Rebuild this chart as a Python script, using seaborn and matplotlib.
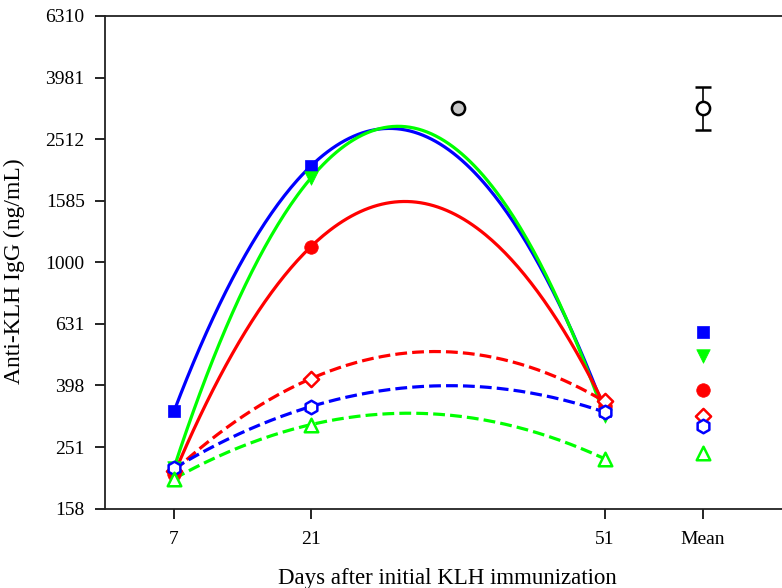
import numpy as np
import pandas as pd
import matplotlib
matplotlib.use("Agg")
import matplotlib.pyplot as plt
import seaborn as sns

sns.set_theme(style="white")
plt.rcParams['font.family'] = ['Liberation Serif', 'DejaVu Serif']

# ---- data ----
days = [7, 21, 51]
mean_pos = 61
blue_solid = [328, 2056, 330]
green_solid = [215, 1880, 316]
red_solid = [205, 1125, 342]
red_dashed = [210, 419, 353]
blue_dashed = [214, 340, 326]
green_dashed = [198, 297, 230]
means = {"blue_solid": 594, "green_solid": 497, "red_solid": 385,
         "red_dashed": 316, "blue_dashed": 293, "green_dashed": 240}
black_x = [36]
black_y = [3167]
black_mean = 3167
black_err_lo = 2692
black_err_hi = 3722

ytick_vals = [158, 251, 398, 631, 1000, 1585, 2512, 3981, 6310]
ytick_labels = ["158", "251", "398", "631", "1000", "1585", "2512", "3981", "6310"]
xtick_vals = [7, 21, 51, 61]
xtick_labels = ["7", "21", "51", "Mean"]

series = [
    ("blue_solid", blue_solid, "#0000ff", "s", True, "-"),
    ("green_solid", green_solid, "#00ff00", "v", True, "-"),
    ("red_solid", red_solid, "#ff0000", "o", True, "-"),
    ("red_dashed", red_dashed, "#ff0000", "D", False, "--"),
    ("blue_dashed", blue_dashed, "#0000ff", "h", False, "--"),
    ("green_dashed", green_dashed, "#00ff00", "^", False, "--"),
]

fig = plt.figure(figsize=(7.82, 5.88), dpi=100)
ax = fig.add_axes([0.1349, 0.1344, 0.8761, 0.8384])

xs = np.linspace(7, 51, 200)
for name, vals, col, mk, filled, ls in series:
    coef = np.polyfit(days, np.log10(vals), 2)
    fit = pd.DataFrame({"x": xs, "y": 10 ** np.polyval(coef, xs)})
    sns.lineplot(data=fit, x="x", y="y", ax=ax, color=col, lw=2.3,
                 linestyle=ls, dashes=(6, 3.5) if ls == "--" else "", zorder=2)

for name, vals, col, mk, filled, ls in series:
    pts = pd.DataFrame({"x": days + [mean_pos], "y": vals + [means[name]]})
    ms = 85 if mk in ("s",) else 95
    if mk == "D":
        ms = 60
    if filled:
        sns.scatterplot(data=pts, x="x", y="y", ax=ax, marker=mk, s=ms,
                        color=col, edgecolor=col, linewidth=0.5, zorder=3)
    else:
        sns.scatterplot(data=pts, x="x", y="y", ax=ax, marker=mk, s=ms,
                        facecolor="white", edgecolor=col, linewidth=1.8, zorder=3)

sns.scatterplot(x=black_x, y=black_y, ax=ax, marker="o", s=90,
                facecolor="#c8c8c8", edgecolor="black", linewidth=1.8, zorder=4)
ax.errorbar([mean_pos], [black_mean],
            yerr=[[black_mean - black_err_lo], [black_err_hi - black_mean]],
            fmt="o", ms=9.5, mfc="white", mec="black", mew=1.8,
            ecolor="black", elinewidth=1.2, capsize=6, capthick=1.2, zorder=4)

ax.set_yscale("log")
ax.set_ylim(158.49, 6309.6)
ax.set_xlim(0, 70)
ax.set_yticks(ytick_vals)
ax.set_yticklabels(ytick_labels)
ax.yaxis.set_minor_locator(matplotlib.ticker.NullLocator())
ax.set_xticks(xtick_vals)
ax.set_xticklabels(xtick_labels)
ax.tick_params(axis="both", direction="out", length=7, width=1.2,
               labelsize=14, colors="black", pad=8, left=True, bottom=True)
ax.tick_params(axis="x", pad=9)

for s in ["left", "bottom", "top"]:
    ax.spines[s].set_visible(True)
    ax.spines[s].set_color("#222222")
    ax.spines[s].set_linewidth(1.3)
ax.spines["right"].set_visible(False)

ax.set_xlabel("Days after initial KLH immunization", fontsize=16.5, color="black")
ax.xaxis.set_label_coords(0.4985, -0.119)
ax.set_ylabel("Anti-KLH IgG (ng/mL)", fontsize=17, color="black")
ax.yaxis.set_label_coords(-0.1175, 0.483)

fig.savefig("out.png", dpi=100)
